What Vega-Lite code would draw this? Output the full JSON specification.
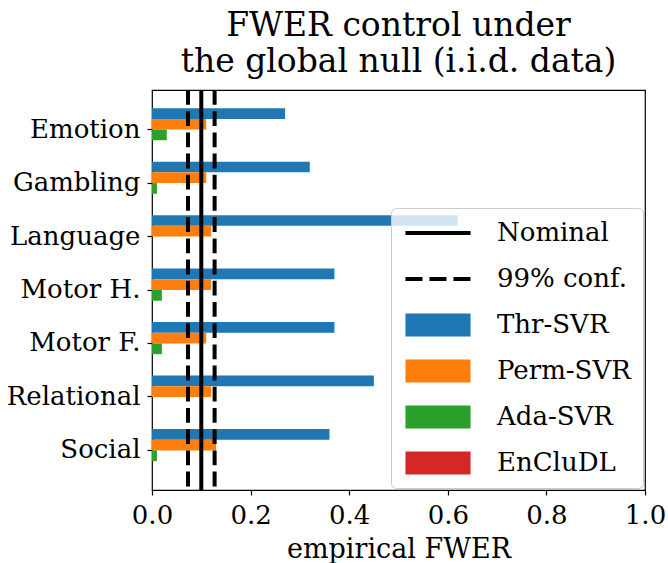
{
  "$schema": "https://vega.github.io/schema/vega-lite/v6.json",
  "width": 493,
  "height": 400,
  "autosize": {"type": "none"},
  "padding": {"left": 152, "top": 90, "right": 23, "bottom": 73},
  "background": "white",
  "config": {
    "font": "DejaVu Serif",
    "view": {"stroke": "black", "strokeWidth": 1.2},
    "axis": {
      "domain": false,
      "grid": false,
      "tickColor": "black",
      "tickSize": 5,
      "tickWidth": 1.2,
      "labelColor": "black",
      "labelFont": "DejaVu Serif",
      "labelFontSize": 26,
      "labelPadding": 7,
      "labelFlush": false,
      "titleColor": "black",
      "titleFont": "DejaVu Serif",
      "titleFontSize": 27,
      "titleFontWeight": "normal"
    }
  },
  "title": {
    "text": ["FWER control under", "the global null (i.i.d. data)"],
    "font": "DejaVu Serif",
    "fontSize": 33,
    "fontWeight": "normal",
    "color": "black",
    "lineHeight": 36,
    "anchor": "middle",
    "offset": 9
  },
  "layer": [
    {
      "data": {
        "values": [
          {"task": "Emotion", "method": "Thr-SVR", "value": 0.27},
          {"task": "Emotion", "method": "Perm-SVR", "value": 0.11},
          {"task": "Emotion", "method": "Ada-SVR", "value": 0.03},
          {"task": "Emotion", "method": "EnCluDL", "value": 0.0},
          {"task": "Gambling", "method": "Thr-SVR", "value": 0.32},
          {"task": "Gambling", "method": "Perm-SVR", "value": 0.11},
          {"task": "Gambling", "method": "Ada-SVR", "value": 0.01},
          {"task": "Gambling", "method": "EnCluDL", "value": 0.0},
          {"task": "Language", "method": "Thr-SVR", "value": 0.62},
          {"task": "Language", "method": "Perm-SVR", "value": 0.12},
          {"task": "Language", "method": "Ada-SVR", "value": 0.0},
          {"task": "Language", "method": "EnCluDL", "value": 0.0},
          {"task": "Motor H.", "method": "Thr-SVR", "value": 0.37},
          {"task": "Motor H.", "method": "Perm-SVR", "value": 0.12},
          {"task": "Motor H.", "method": "Ada-SVR", "value": 0.02},
          {"task": "Motor H.", "method": "EnCluDL", "value": 0.0},
          {"task": "Motor F.", "method": "Thr-SVR", "value": 0.37},
          {"task": "Motor F.", "method": "Perm-SVR", "value": 0.11},
          {"task": "Motor F.", "method": "Ada-SVR", "value": 0.02},
          {"task": "Motor F.", "method": "EnCluDL", "value": 0.0},
          {"task": "Relational", "method": "Thr-SVR", "value": 0.45},
          {"task": "Relational", "method": "Perm-SVR", "value": 0.12},
          {"task": "Relational", "method": "Ada-SVR", "value": 0.0},
          {"task": "Relational", "method": "EnCluDL", "value": 0.0},
          {"task": "Social", "method": "Thr-SVR", "value": 0.36},
          {"task": "Social", "method": "Perm-SVR", "value": 0.13},
          {"task": "Social", "method": "Ada-SVR", "value": 0.01},
          {"task": "Social", "method": "EnCluDL", "value": 0.0}
        ]
      },
      "mark": {"type": "bar"},
      "encoding": {
        "y": {
          "field": "task",
          "type": "nominal",
          "sort": ["Emotion", "Gambling", "Language", "Motor H.", "Motor F.", "Relational", "Social"],
          "scale": {"paddingInner": 0.2, "paddingOuter": 0.34},
          "axis": {"title": null}
        },
        "yOffset": {
          "field": "method",
          "type": "nominal",
          "sort": ["Thr-SVR", "Perm-SVR", "Ada-SVR", "EnCluDL"],
          "scale": {"paddingInner": 0, "paddingOuter": 0}
        },
        "x": {
          "field": "value",
          "type": "quantitative",
          "scale": {"domain": [0, 1], "nice": false},
          "axis": {"title": "empirical FWER", "values": [0, 0.2, 0.4, 0.6, 0.8, 1.0], "format": ".1f", "titleBaseline": "alphabetic", "titleY": 67}
        },
        "color": {
          "field": "method",
          "type": "nominal",
          "scale": {
            "domain": ["Nominal", "99% conf.", "Thr-SVR", "Perm-SVR", "Ada-SVR", "EnCluDL"],
            "range": ["black", "black", "#1f77b4", "#ff7f0e", "#2ca02c", "#d62728"]
          },
          "legend": {
            "title": null,
            "orient": "bottom-right",
            "offset": 2,
            "padding": 12,
            "fillColor": "rgba(255,255,255,0.8)",
            "strokeColor": "#cccccc",
            "cornerRadius": 5,
            "labelFont": "DejaVu Serif",
            "labelFontSize": 26,
            "labelColor": "black",
            "symbolSize": 529,
            "symbolType": "M-2.83,-1H2.83V1H-2.83Z",
            "symbolOffset": 22,
            "labelOffset": 46,
            "rowPadding": 20,
            "symbolStrokeWidth": 0,
            "encode": {
              "symbols": {
                "update": {
                  "shape": {"signal": "(datum.value === 'Nominal' || datum.value === '99% conf.') ? 'M-2.83,0H2.83' : 'M-2.83,-1H2.83V1H-2.83Z'"},
                  "strokeWidth": {"signal": "(datum.value === 'Nominal' || datum.value === '99% conf.') ? 4 : 0"},
                  "stroke": {"signal": "scale('color', datum.value)"},
                  "fill": {"signal": "scale('color', datum.value)"},
                  "strokeDash": {"signal": "datum.value === '99% conf.' ? [17, 7] : [1, 0]"},
                  "opacity": {"value": 1}
                }
              }
            }
          }
        }
      }
    },
    {
      "data": {
        "values": [
          {"method": "Nominal", "x": 0.1},
          {"method": "99% conf.", "x": 0.073},
          {"method": "99% conf.", "x": 0.127}
        ]
      },
      "mark": {"type": "rule", "strokeWidth": 4},
      "encoding": {
        "x": {"field": "x", "type": "quantitative"},
        "color": {"field": "method", "type": "nominal"},
        "strokeDash": {
          "field": "method",
          "type": "nominal",
          "scale": {"domain": ["Nominal", "99% conf."], "range": [[1, 0], [14.8, 6.4]]},
          "legend": null
        }
      }
    }
  ]
}
